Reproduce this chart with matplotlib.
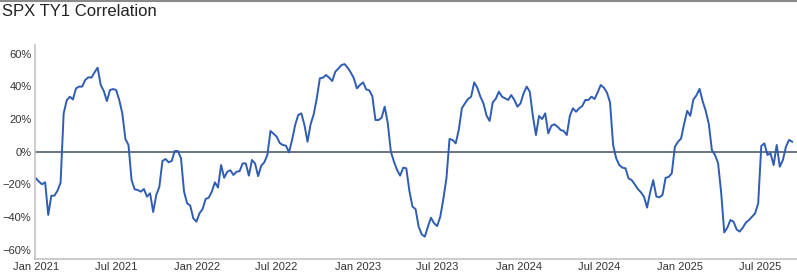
import matplotlib
matplotlib.use("Agg")
import matplotlib.pyplot as plt
import matplotlib.dates as mdates
from matplotlib.ticker import FixedLocator, FuncFormatter
from matplotlib.lines import Line2D
import pandas as pd
import numpy as np

title = "SPX TY1 Correlation"
start_date = "2021-01-01"
freq = "7D"

# weekly rolling correlation, in percent
corr = [
    -16.3, -18.4, -20.0, -18.8, -38.8, -27.0, -27.0, -23.9, -19.0, 23.5,
    31.5, 33.7, 32.0, 38.8, 39.9, 39.9, 44.0, 45.6, 45.4, 48.6,
    51.5, 40.9, 37.2, 31.0, 37.8, 38.4, 37.8, 31.7, 23.5, 7.8,
    4.1, -17.4, -23.1, -23.5, -24.5, -22.9, -27.6, -25.5, -37.0, -26.6,
    -21.5, -5.7, -4.5, -6.5, -5.7, 0.4, 0.4, -4.0, -24.5, -31.7,
    -33.0, -40.9, -42.9, -37.8, -35.2, -29.0, -28.2, -24.5, -18.8, -22.0,
    -8.2, -16.0, -12.3, -11.4, -14.3, -12.3, -11.9, -7.2, -7.2, -14.7,
    -5.1, -7.2, -15.0, -8.6, -6.5, -2.0, 12.7, 11.0, 9.2, 5.3,
    4.1, 3.7, -0.4, 7.2, 16.4, 22.5, 23.5, 16.4, 6.1, 16.8,
    22.9, 32.7, 45.0, 45.4, 47.0, 45.4, 43.3, 49.0, 51.0, 53.1,
    53.7, 51.5, 48.6, 45.0, 38.8, 40.9, 42.5, 38.2, 37.6, 34.0,
    19.4, 19.4, 20.8, 27.6, 17.4, 0.0, -6.1, -11.2, -14.7, -9.8,
    -10.2, -24.1, -33.7, -35.2, -46.0, -50.7, -52.1, -46.0, -40.5, -43.9,
    -45.6, -39.9, -29.0, -16.4, 7.8, 7.2, 5.1, 13.3, 26.6, 29.6,
    32.3, 33.7, 42.5, 39.2, 33.7, 29.6, 22.1, 18.8, 30.2, 32.5,
    36.8, 33.7, 32.7, 31.7, 34.7, 31.7, 27.6, 29.6, 35.8, 39.9,
    36.8, 21.9, 10.2, 21.9, 20.0, 23.5, 11.2, 15.9, 16.8, 15.3,
    13.3, 12.7, 10.2, 22.1, 26.6, 24.5, 26.6, 28.0, 31.7, 31.7,
    33.7, 32.3, 36.4, 40.9, 39.2, 36.2, 30.2, 4.1, -4.1, -8.2,
    -9.8, -10.2, -16.4, -17.4, -20.0, -22.9, -24.9, -27.6, -34.3, -24.9,
    -17.5, -27.5, -28.0, -26.5, -16.0, -15.5, -13.3, 3.0, 6.0, 8.0,
    17.0, 25.0, 22.0, 32.0, 34.5, 38.5, 31.0, 25.0, 17.0, 1.0,
    -2.0, -7.0, -25.0, -49.5, -46.6, -41.9, -42.9, -47.6, -49.0, -46.6,
    -43.5, -41.9, -39.9, -37.8, -31.7, 3.5, 5.1, -2.0, -1.0, -8.2,
    4.1, -9.2, -5.1, 3.1, 7.2, 6.1,
]

y_ticks = [-60, -40, -20, 0, 20, 40, 60]
x_tick_dates = ["2021-01-01", "2021-07-01", "2022-01-01", "2022-07-01",
                "2023-01-01", "2023-07-01", "2024-01-01", "2024-07-01",
                "2025-01-01", "2025-07-01"]
x_limits = ["2020-12-30", "2025-09-23"]
y_limits = [-65.8, 65.4]

dates = pd.date_range(start_date, periods=len(corr), freq=freq)

plt.rcParams["font.family"] = ["Liberation Sans", "DejaVu Sans"]

fig = plt.figure(figsize=(7.97, 2.74), dpi=100)
ax = fig.add_axes([35 / 797, 15 / 274, 1 - 35 / 797, 214 / 274])

ax.axhline(0, color="#6b7480", lw=1.4, zorder=1)
ax.plot(dates, corr, color="#2f5db3", lw=1.4, zorder=2)

ax.set_xlim(pd.Timestamp(x_limits[0]), pd.Timestamp(x_limits[1]))
ax.set_ylim(*y_limits)

ax.yaxis.set_major_locator(FixedLocator(y_ticks))
ax.yaxis.set_major_formatter(FuncFormatter(
    lambda v, p: (f"{int(v)}%" if v >= 0 else f"\u2212{int(-v)}%")))
ax.set_xticks([mdates.date2num(pd.Timestamp(d)) for d in x_tick_dates])
ax.xaxis.set_major_formatter(mdates.DateFormatter("%b %Y"))

ax.tick_params(axis="both", length=0, labelsize=8.0, colors="#333333")
ax.tick_params(axis="y", pad=2.5)
ax.tick_params(axis="x", pad=2.0)

for s in ["top", "right"]:
    ax.spines[s].set_visible(False)
for s in ["left", "bottom"]:
    ax.spines[s].set_color("#c4c4c4")
    ax.spines[s].set_linewidth(1.2)

fig.text(2 / 797, 1 - 11 / 274, title, fontsize=12, color="#222222",
         ha="left", va="center")
fig.add_artist(Line2D([0, 1], [0.997, 0.997], transform=fig.transFigure,
                      color="#8a8a8a", lw=1.5))

fig.savefig("out.png", dpi=100)
